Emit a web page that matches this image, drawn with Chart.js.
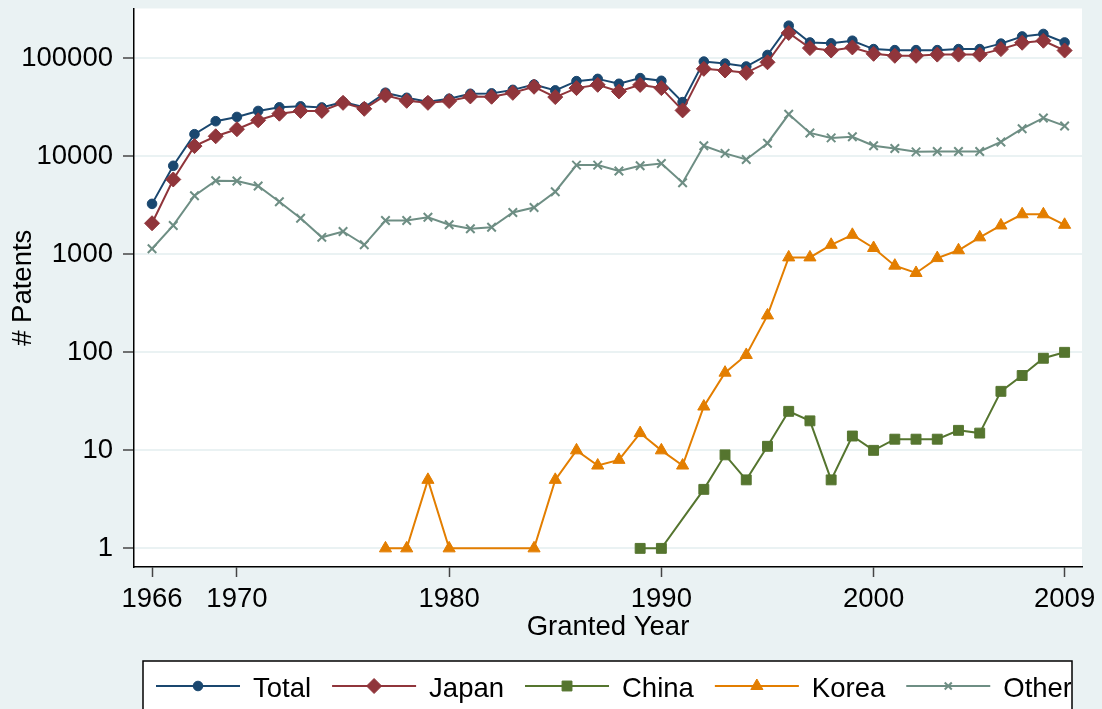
<!DOCTYPE html>
<html>
<head>
	<meta charset="utf-8">
	<style>
		body { margin: 0; background: #eaf2f3; }
		canvas { display: block; }
	</style>
</head>
<body>
	<canvas id="myChart" width="1102" height="709"></canvas>

	<script src="https://cdn.jsdelivr.net/npm/chart.js"></script>

	<script>
		// values (null = no patents that year)
		const years = [1966, 1967, 1968, 1969, 1970, 1971, 1972, 1973, 1974, 1975,
			1976, 1977, 1978, 1979, 1980, 1981, 1982, 1983, 1984, 1985,
			1986, 1987, 1988, 1989, 1990, 1991, 1992, 1993, 1994, 1995,
			1996, 1997, 1998, 1999, 2000, 2001, 2002, 2003, 2004, 2005,
			2006, 2007, 2008, 2009];

		const total = [3270, 8000, 16800, 22800, 25200, 29000, 31600, 32300, 31500, 35800,
			31600, 44500, 39500, 36000, 38600, 43400, 43800, 47600, 54000, 47000,
			58400, 61600, 54900, 62700, 58900, 35700, 92500, 88300, 82400, 108000,
			215000, 145000, 142000, 151000, 124000, 121000, 121000, 121000, 124000, 124000,
			141000, 167000, 177000, 145000];

		const japan = [2075, 5800, 12700, 16000, 18900, 23300, 27200, 29000, 29000, 35100,
			30500, 41800, 36800, 35100, 36600, 40800, 40500, 44400, 51200, 40200,
			49600, 53600, 45900, 53500, 49600, 29400, 78000, 75000, 71000, 91000,
			181000, 127000, 120000, 129000, 111000, 106000, 106000, 109000, 109000, 109000,
			124000, 144000, 151000, 120000];

		const china = [null, null, null, null, null, null, null, null, null, null,
			null, null, null, null, null, null, null, null, null, null,
			null, null, null, 1, 1, null, 4, 9, 5, 11,
			25, 20, 5, 14, 10, 13, 13, 13, 16, 15,
			40, 58, 87, 100];

		const korea = [null, null, null, null, null, null, null, null, null, null,
			null, 1, 1, 5, 1, null, null, null, 1, 5,
			10, 7, 8, 15, 10, 7, 28, 62, 94, 238,
			930, 930, 1250, 1580, 1160, 766, 645, 915, 1100, 1490,
			1970, 2560, 2560, 2000];

		const other = [1140, 1970, 3960, 5630, 5600, 4980, 3440, 2330, 1490, 1710,
			1250, 2210, 2210, 2390, 2000, 1820, 1890, 2670, 3000, 4350,
			8130, 8130, 7070, 8000, 8440, 5370, 12800, 10700, 9270, 13600,
			26800, 17300, 15400, 15800, 12800, 12000, 11100, 11200, 11200, 11200,
			14000, 19100, 24600, 20400];

		const xTicks = [1966, 1970, 1980, 1990, 2000, 2009];
		const yTicks = [1, 10, 100, 1000, 10000, 100000];

		const fontFamily = "'Liberation Sans', Arial, sans-serif";
		const fontSize = 27.5;
		const bgColor = '#eaf2f3';

		// axis ranges with the extra margin stata leaves round the data
		const xMin = 1965.15, xMax = 2009.82;
		const yMin = 0.6456, yMax = 321900;

		function toPoints(values) {
			return years.map((yr, i) => ({x: yr, y: values[i]}));
		}

		function makeSet(label, values, color, style, radius, order) {
			return {
				label: label,
				data: toPoints(values),
				borderColor: color,
				backgroundColor: color,
				borderWidth: 2,
				pointStyle: style,
				pointRadius: radius,
				pointHoverRadius: radius,
				pointBackgroundColor: color,
				pointBorderColor: color,
				pointBorderWidth: style == 'crossRot' ? 2 : 1,
				tension: 0,
				spanGaps: true,
				order: order,
			};
		}

		const datasets = [
			makeSet('Total', total, '#1a476f', 'circle', 4.8, 5),
			makeSet('Japan', japan, '#90353b', 'rectRot', 7.5, 4),
			makeSet('China', china, '#55752f', 'rect', 7, 3),
			makeSet('Korea', korea, '#e37e00', 'triangle', 7, 2),
			makeSet('Other', other, '#6e8e84', 'crossRot', 6, 1),
		];

		// graph region and white plot region like stata s2color
		const background = {
			id: 'background',
			beforeDraw(chart) {
				const c = chart.ctx;
				const a = chart.chartArea;
				c.save();
				c.fillStyle = bgColor;
				c.fillRect(0, 0, chart.width, chart.height);
				c.fillStyle = '#ffffff';
				c.fillRect(a.left, a.top, a.right - a.left, a.bottom - a.top);
				c.restore();
			}
		};

		// legend box at the bottom: line with the marker in the middle, then the label
		const boxLegend = {
			id: 'boxLegend',
			afterDraw(chart) {
				const c = chart.ctx;
				const box = {left: 143, top: 661, right: 1072, bottom: 730};
				c.save();
				c.fillStyle = '#ffffff';
				c.fillRect(box.left, box.top, box.right - box.left, box.bottom - box.top);
				c.strokeStyle = '#000000';
				c.lineWidth = 1.5;
				c.strokeRect(box.left, box.top, box.right - box.left, box.bottom - box.top);
				c.beginPath();
				c.rect(box.left, box.top, box.right - box.left - 1, box.bottom - box.top);
				c.clip();

				c.font = fontSize + 'px ' + fontFamily;
				c.textBaseline = 'alphabetic';
				c.textAlign = 'left';

				let x = 156;
				const y = 686;
				chart.data.datasets.forEach((ds) => {
					c.strokeStyle = ds.borderColor;
					c.fillStyle = ds.borderColor;
					c.lineWidth = 2;
					c.beginPath();
					c.moveTo(x, y);
					c.lineTo(x + 84, y);
					c.stroke();

					let r = ds.pointRadius;
					if (ds.pointStyle == 'crossRot') r = 5;
					c.lineWidth = ds.pointBorderWidth;
					Chart.helpers.drawPoint(c, {pointStyle: ds.pointStyle, radius: r, borderWidth: ds.pointBorderWidth, rotation: 0}, x + 42, y);

					c.fillStyle = '#000000';
					c.fillText(ds.label, x + 97, 696.5);
					x = x + 97 + c.measureText(ds.label).width + 21;
				});
				c.restore();
			}
		};

		const config = {
			type: 'line',
			data: {datasets: datasets},
			options: {
				responsive: false,
				animation: false,
				events: [],
				layout: {
					padding: {left: 0, top: 6, right: 20, bottom: 62}
				},
				plugins: {
					legend: {display: false},
					tooltip: {enabled: false},
				},
				scales: {
					x: {
						type: 'linear',
						min: xMin,
						max: xMax,
						afterBuildTicks: (scale) => {
							scale.ticks = xTicks.map((v) => ({value: v}));
							scale.min = xMin;
							scale.max = xMax;
						},
						afterFit: (scale) => {
							scale.height = 80;
							scale.paddingLeft = 0;
							scale.paddingRight = 0;
						},
						ticks: {
							callback: (v) => String(v),
							color: '#000000',
							padding: 5.5,
							maxRotation: 0,
							font: {family: fontFamily, size: fontSize},
						},
						grid: {
							drawOnChartArea: false,
							tickLength: 10,
							tickColor: '#444444',
							tickWidth: 1.5,
						},
						border: {display: true, color: '#000000', width: 1.5},
						title: {
							display: true,
							text: 'Granted Year',
							color: '#000000',
							padding: {top: 0, bottom: 2.7},
							font: {family: fontFamily, size: fontSize},
						},
					},
					y: {
						type: 'logarithmic',
						min: yMin,
						max: yMax,
						afterBuildTicks: (scale) => {
							// log scale rounds the min to 0.6, put the real range back
							scale.ticks = yTicks.map((v) => ({value: v}));
							scale.min = yMin;
							scale.max = yMax;
						},
						afterFit: (scale) => {
							scale.width = 134;
							scale.paddingTop = 0;
							scale.paddingBottom = 0;
						},
						ticks: {
							callback: (v) => String(v),
							color: '#000000',
							padding: 10,
							font: {family: fontFamily, size: fontSize},
						},
						grid: {
							color: bgColor,
							lineWidth: 2,
							tickLength: 11,
							tickColor: '#444444',
							tickWidth: 1.5,
						},
						border: {display: true, color: '#000000', width: 1.5},
						title: {
							display: true,
							text: '# Patents',
							color: '#000000',
							padding: {top: 6.8, bottom: 0},
							font: {family: fontFamily, size: fontSize},
						},
					},
				},
			},
			plugins: [background, boxLegend],
		};

		const chart = new Chart(document.getElementById('myChart'), config);
	</script>
</body>
</html>
